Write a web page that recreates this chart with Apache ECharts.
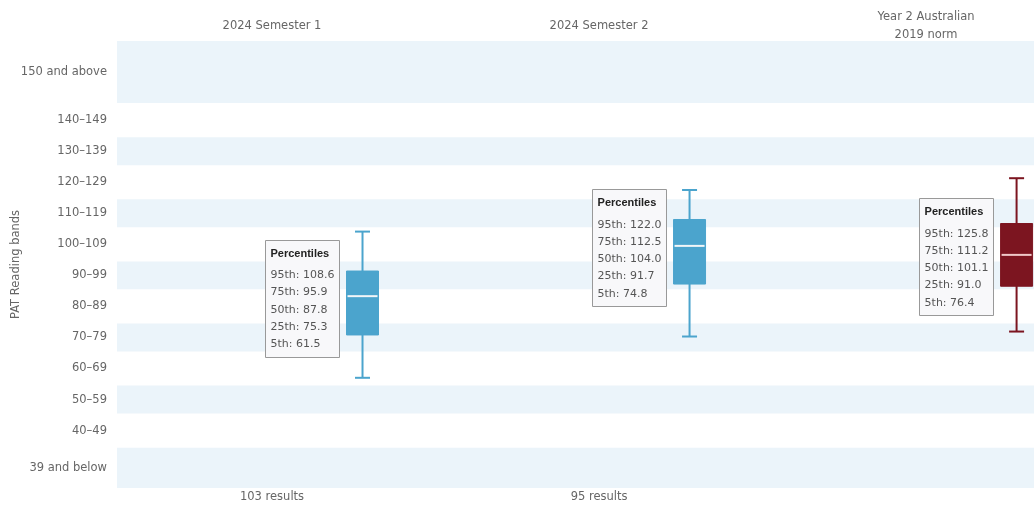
<!DOCTYPE html>
<html><head><meta charset="utf-8">
<script src="https://cdn.jsdelivr.net/npm/echarts@6/dist/echarts.min.js"></script>
<style>html,body{margin:0;padding:0;background:#fff}#c{width:1034px;height:508px}</style>
</head><body><div id="c"></div>
<script>
// ---- data ----
const categories = ['2024 Semester 1', '2024 Semester 2', 'Year 2 Australian\n2019 norm'];
const resultCounts = ['103 results', '95 results', ''];
const p95 = [108.6, 122.0, 125.8];
const p75 = [95.9, 112.5, 111.2];
const p50 = [87.8, 104.0, 101.1];
const p25 = [75.3, 91.7, 91.0];
const p5  = [61.5, 74.8, 76.4];
const bandLabels = ['39 and below', '40–49', '50–59', '60–69', '70–79', '80–89', '90–99',
  '100–109', '110–119', '120–129', '130–139', '140–149', '150 and above'];
const bandLow  = [26, 40, 50, 60, 70, 80, 90, 100, 110, 120, 130, 140, 150];
const bandHigh = [39, 49, 59, 69, 79, 89, 99, 109, 119, 129, 139, 149, 170];

// ---- styles ----
const boxColors = ['#4ba4cd', '#4ba4cd', '#7c1520'];
const medianColors = ['#f2f6f8', '#f2f6f8', '#f0c8c8'];
const bandFill = '#ebf4fa';
const textColor = '#666';
const FONT = '"DejaVu Sans", sans-serif';

const bandCenters = bandLow.map((lo, i) => (lo + bandHigh[i]) / 2);
const shadedBands = bandLow.map((lo, i) => [lo, bandHigh[i]]).filter((_, i) => i % 2 === 0);
const boxData = categories.map((_, i) => [i, p5[i], p25[i], p50[i], p75[i], p95[i]]);

const chart = echarts.init(document.getElementById('c'), null, {renderer: 'canvas'});

function renderBox(params, api) {
  const i = api.value(0);
  const off = 90.5;
  const x = api.coord([i, api.value(3)])[0] + off;
  const y5 = api.coord([i, api.value(1)])[1];
  const y25 = api.coord([i, api.value(2)])[1];
  const y50 = api.coord([i, api.value(3)])[1];
  const y75 = api.coord([i, api.value(4)])[1];
  const y95 = api.coord([i, api.value(5)])[1];
  const col = boxColors[i];
  const bw = 32, cw = 15;
  const tw = 74, th = 117;
  const tx = x - bw / 2 - 8 - tw;
  const ty = y50 + 2 - th / 2;
  const lines = ['95th: ' + p95[i].toFixed(1), '75th: ' + p75[i].toFixed(1), '50th: ' + p50[i].toFixed(1),
    '25th: ' + p25[i].toFixed(1), '5th: ' + p5[i].toFixed(1)];
  return {
    type: 'group',
    children: [
      {type: 'line', shape: {x1: x, y1: y95, x2: x, y2: y5}, style: {stroke: col, lineWidth: 2}},
      {type: 'line', shape: {x1: x - cw / 2, y1: y95, x2: x + cw / 2, y2: y95}, style: {stroke: col, lineWidth: 2}},
      {type: 'line', shape: {x1: x - cw / 2, y1: y5, x2: x + cw / 2, y2: y5}, style: {stroke: col, lineWidth: 2}},
      {type: 'rect', shape: {x: x - bw / 2, y: y75, width: bw, height: y25 - y75}, style: {fill: col, stroke: col, lineWidth: 1}},
      {type: 'line', shape: {x1: x - bw / 2 + 1, y1: y50, x2: x + bw / 2 - 1, y2: y50}, style: {stroke: medianColors[i], lineWidth: 2}},
      {type: 'rect', shape: {x: Math.round(tx) + 0.5, y: Math.round(ty) + 0.5, width: tw, height: th},
        style: {fill: '#f8f8fa', stroke: '#999', lineWidth: 1}},
      {type: 'text', x: tx + 6, y: ty + 14,
        style: {text: 'Percentiles', fill: '#222', font: 'bold 11px "Liberation Sans", sans-serif', verticalAlign: 'middle', align: 'left'}},
      {type: 'text', x: tx + 6, y: ty + 27,
        style: {text: lines.join('\n'), fill: '#555', font: '11px ' + FONT, lineHeight: 17.2, verticalAlign: 'top', align: 'left'}}
    ]
  };
}

function renderBand(params, api) {
  const cs = params.coordSys;
  const yTop = api.coord([0, api.value(1)])[1];
  const yBot = api.coord([0, api.value(0)])[1];
  return {type: 'rect', shape: {x: cs.x, y: yTop, width: cs.width, height: yBot - yTop}, style: {fill: bandFill}};
}

const option = {
  animation: false,
  backgroundColor: '#fff',
  grid: {left: 117, right: 0, top: 41, bottom: 20, containLabel: false, outerBoundsMode: 'none'},
  xAxis: [
    {
      type: 'value', position: 'top', min: -0.474, max: 2.330,
      axisLine: {show: false}, axisTick: {show: false}, splitLine: {show: false},
      axisLabel: {
        customValues: [0, 1, 2],
        formatter: v => categories[Math.round(v)] || '',
        color: textColor, fontFamily: FONT, fontSize: 11.5, margin: 15,
        verticalAlign: 'middle', align: 'center', lineHeight: 18.5
      }
    },
    {
      type: 'value', position: 'bottom', min: -0.474, max: 2.330,
      axisLine: {show: false}, axisTick: {show: false}, splitLine: {show: false},
      axisLabel: {
        customValues: [0, 1],
        formatter: v => resultCounts[Math.round(v)] || '',
        color: textColor, fontFamily: FONT, fontSize: 11.5, margin: 9,
        verticalAlign: 'middle', align: 'center'
      }
    }
  ],
  yAxis: {
    type: 'value', min: 26, max: 170,
    name: 'PAT Reading bands', nameLocation: 'middle', nameGap: 95, nameRotate: 90,
    nameMoveOverlap: false,
    nameTextStyle: {color: textColor, fontFamily: FONT, fontSize: 11.5},
    axisLine: {show: false}, axisTick: {show: false}, splitLine: {show: false},
    axisLabel: {
      customValues: bandCenters,
      formatter: v => {
        const k = bandCenters.findIndex(c => Math.abs(c - v) < 1e-6);
        return k >= 0 ? bandLabels[k] : '';
      },
      color: textColor, fontFamily: FONT, fontSize: 11.5, margin: 10
    }
  },
  series: [
    {
      type: 'custom', name: 'bands', xAxisIndex: 0, silent: true, z: 1,
      data: shadedBands, encode: {y: [0, 1]},
      renderItem: renderBand
    },
    {
      type: 'custom', name: 'percentiles', xAxisIndex: 0, z: 5,
      data: boxData, encode: {x: 0, y: [1, 2, 3, 4, 5]},
      renderItem: renderBox
    }
  ]
};
chart.setOption(option);
</script>
</body></html>
